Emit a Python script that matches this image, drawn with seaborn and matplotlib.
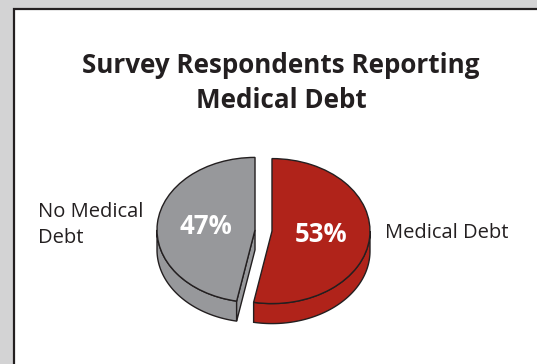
import numpy as np
import matplotlib
matplotlib.use("Agg")
import matplotlib.pyplot as plt
from matplotlib.patches import Rectangle, Polygon
import seaborn as sns

# Survey shares
categories = ["Medical Debt", "No Medical Debt"]
shares = [53, 47]
slice_colors = ["#b0231a", "#97989b"]
title_lines = ["Survey Respondents Reporting", "Medical Debt"]
right_label = ["Medical Debt"]
left_label = ["No Medical", "Debt"]

sns.set_theme(style="white")
plt.rcParams["font.family"] = ["Open Sans", "DejaVu Sans"]

W, H = 537, 364
fig = plt.figure(figsize=(W / 100, H / 100), dpi=100)
fig.patch.set_facecolor("#d3d3d4")
ink = "#231f20"

# Background panel in pixel coordinates
bg = fig.add_axes([0, 0, 1, 1])
bg.set_xlim(0, W)
bg.set_ylim(H, 0)
bg.axis("off")
bg.add_patch(Rectangle((13.5, 8.5), W + 20, H + 20, facecolor="white",
                       edgecolor=ink, linewidth=1.6))
for line, y in zip(title_lines, (73, 108)):
    bg.text(281, y, line, ha="center", va="baseline", fontsize=18.7,
            fontweight="bold", color=ink)
for line, y in zip(right_label, (238,)):
    bg.text(385, y, line, ha="left", va="baseline", fontsize=14.5, color=ink)
for line, y in zip(left_label, (217, 243)):
    bg.text(38, y, line, ha="left", va="baseline", fontsize=14.5, color=ink)

# Pie axes: one data unit = 98 px horizontally, 72.5 px vertically
cx, cy = 263.5, 230.5
rx, ry = 98.0, 72.5
x0, x1 = -2.0, 2.0
y0, y1 = -1.6, 1.4
left = (cx + x0 * rx) / W
width = (x1 - x0) * rx / W
top_px = cy - y1 * ry
height = (y1 - y0) * ry / H
bottom = 1 - (top_px / H) - height
ax = fig.add_axes([left, bottom, width, height])
ax.patch.set_alpha(0)

lw = 1.0
wedges, _, autotexts = ax.pie(
    shares, colors=slice_colors, startangle=90, counterclock=False,
    explode=[0.087, 0.087], autopct="%1.0f%%", pctdistance=0.5,
    wedgeprops=dict(edgecolor=ink, linewidth=lw, zorder=3),
    textprops=dict(color="white", fontsize=18.5, fontweight="bold"))
ax.set_aspect("auto")
ax.set_xlim(x0, x1)
ax.set_ylim(y0, y1)
ax.axis("off")
for t in autotexts:
    t.set_zorder(5)

depth = 20.0 / ry


def arc(c, a, b, n=80):
    t = np.radians(np.linspace(a, b, n))
    return np.column_stack([c[0] + np.cos(t), c[1] + np.sin(t)])


for w, col in zip(wedges, slice_colors):
    c = np.array(w.center)
    t1, t2 = w.theta1, w.theta2
    # outer wall on the front half of the rim
    for k in (-1, 0, 1):
        a = max(t1, -180 + 360 * k)
        b = min(t2, 0 + 360 * k)
        if b > a:
            top = arc(c, a, b)
            low = top[::-1] - [0, depth]
            ax.add_patch(Polygon(np.vstack([top, low]), closed=True,
                                 facecolor=col, edgecolor=ink, linewidth=lw,
                                 zorder=1))
    # cut faces that turn toward the viewer
    for ang, sgn in ((t1, -1), (t2, 1)):
        normal = np.radians(ang + 90 * sgn)
        if np.sin(normal) < -1e-6:
            r = np.radians(ang)
            p = c + [np.cos(r), np.sin(r)]
            face = np.array([c, p, p - [0, depth], c - [0, depth]])
            ax.add_patch(Polygon(face, closed=True, facecolor=col,
                                 edgecolor=ink, linewidth=lw, zorder=2))

fig.savefig("out.png", dpi=100, facecolor=fig.get_facecolor())
